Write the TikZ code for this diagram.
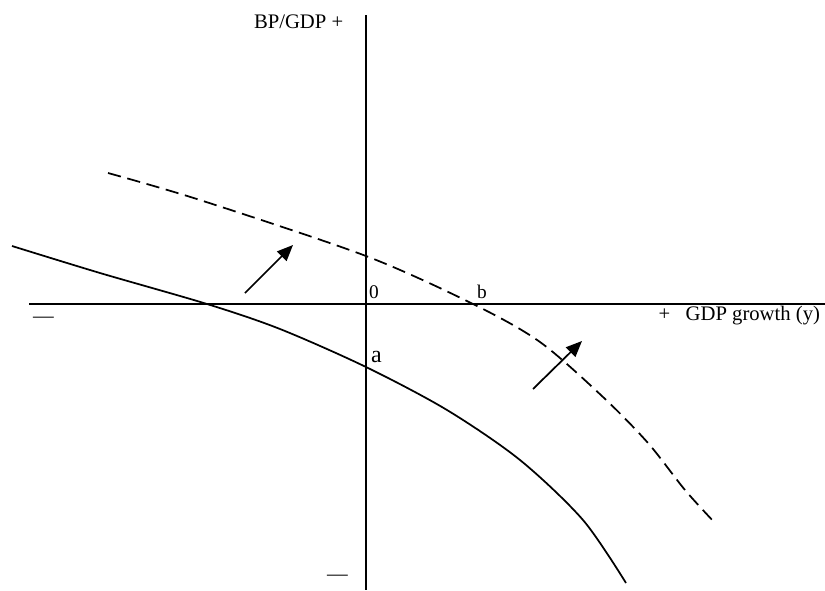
\documentclass[tikz,border=0pt]{standalone}
\usepackage{fontspec}
\setmainfont{Liberation Serif}
\usetikzlibrary{arrows.meta}
\begin{document}
\begin{tikzpicture}[x=0.75pt,y=-0.75pt,
  every node/.style={inner sep=0pt,outer sep=0pt,font=\fontsize{15.5}{18}\selectfont},
  small label/.style={font=\fontsize{14.5}{17}\selectfont},
  big label/.style={font=\fontsize{18}{21}\selectfont},
  axis/.style={line width=1.4pt},
  curve/.style={line width=1.3pt},
  shift arrow/.style={line width=1.3pt,-{Triangle[length=12pt,width=10pt]}},
  dashcurve/.style={curve,dash pattern=on 10pt off 5pt}]
\useasboundingbox (0,0) rectangle (825,590);
% axes
\coordinate (xl) at (29,304);
\coordinate (xr) at (825,304);
\coordinate (yt) at (366,15);
\coordinate (yb) at (366,590);
\draw[axis] (xl) -- (xr);
\draw[axis] (yt) -- (yb);
% labels
\node[anchor=base west] (ylab) at (254,28) {BP/GDP +};
\node[anchor=base east] (xlab) at (820,320) {+\hspace{0.75em}GDP growth (y)};
\node[anchor=base west,small label] (zero) at (369,298) {0};
\node[anchor=base west,small label] (lb) at (477,298) {b};
\node[anchor=base west,big label] (la) at (371,362) {a};
\node[anchor=base west] (mleft) at (33,322) {—};
\node[anchor=base west] (mbot) at (327,580) {—};
% solid curve
\draw[curve] plot[smooth,tension=0.5] coordinates {(12,246) (100,273) (207,304) (280,329) (366,367) (447,410) (520,460) (583,520) (626,583)};
% dashed curve
\draw[dashcurve] plot[smooth,tension=0.5] coordinates {(108,173) (200,200) (366,256) (473,304) (540,342) (603,397) (648,443) (685,490) (715,523)};
% shift arrows
\coordinate (a1s) at (245,293);
\coordinate (a1e) at (293,245);
\coordinate (a2s) at (533,389);
\coordinate (a2e) at (582,341);
\draw[shift arrow] (a1s) -- (a1e);
\draw[shift arrow] (a2s) -- (a2e);
\end{tikzpicture}
\end{document}
